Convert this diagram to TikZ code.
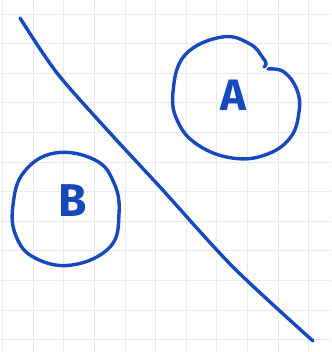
\documentclass[tikz,border=0pt]{standalone}
\usepackage{fontspec}
\setmainfont{Fira Sans}
\definecolor{ink}{RGB}{22,72,190}
\definecolor{gridc}{RGB}{234,234,238}
\begin{document}
\begin{tikzpicture}[x=1pt,y=-1pt,
  pen/.style={draw=ink,line width=3.4pt,line cap=round,line join=round},
  letter/.style={text=ink,inner sep=0pt,font=\fontsize{44}{44}\selectfont\bfseries}]
\useasboundingbox (0,0) rectangle (331,352);
\fill[white] (0,0) rectangle (331,352);
% faint grid paper
\foreach \i in {0,...,10} {\draw[gridc,line width=0.8pt] ({2.5+30.6*\i},0) -- ({2.5+30.6*\i},352);}
\foreach \j in {0,...,11} {\draw[gridc,line width=0.8pt] (0,{14+29.6*\j}) -- (331,{14+29.6*\j});}
% diagonal line
\draw[pen] plot[smooth,tension=0.5] coordinates {(20,18) (57,73) (110,133) (160,187) (233,267) (313,341)};
% circle A (with a small notch)
\draw[pen] plot[smooth,tension=0.7] coordinates {(268,69) (284,72) (297,90) (299,112) (290,138) (265,155) (232,158) (198,145) (178,122) (173,92) (185,55) (222,37) (250,44) (263,58) (266,64) (264,67)};
% circle B
\draw[pen] plot[smooth cycle,tension=0.7] coordinates {(13,205) (24,172) (55,153) (95,160) (114,183) (119,214) (110,247) (72,265) (35,258) (16,236)};
\node[letter] (A) at (233,95) {A};
\node[letter,font=\fontsize{46}{46}\selectfont\bfseries] (B) at (73,201) {B};
\end{tikzpicture}
\end{document}
